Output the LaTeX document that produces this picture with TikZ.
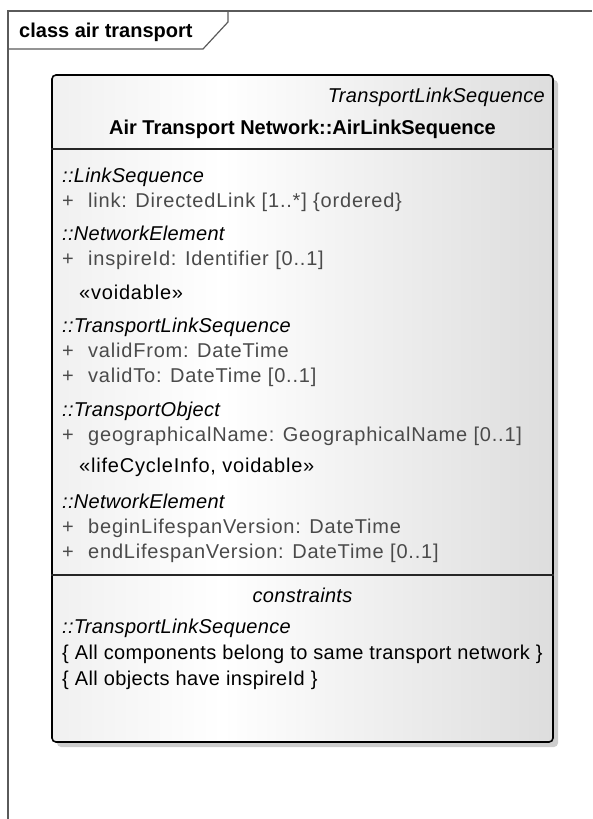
\documentclass[tikz,border=0pt]{standalone}
\usepackage{fontspec}
\setmainfont{Liberation Sans}
\newfontfamily\attrfont[LetterSpace=4]{Liberation Sans}
\newfontfamily\constrfont[LetterSpace=2]{Liberation Sans}
\newfontfamily\nsfont[LetterSpace=1.5]{Liberation Sans}
\definecolor{framegrey}{HTML}{5A5A5A}
\definecolor{attrgrey}{HTML}{4A4A4A}
\definecolor{shadowgrey}{HTML}{CDCDCD}
\definecolor{fillleft}{HTML}{F0F0F0}
\definecolor{fillright}{HTML}{DDDDDD}
\pgfdeclarehorizontalshading{classfill}{100bp}{%
  color(0bp)=(fillleft); color(25bp)=(fillleft); color(42bp)=(white);
  color(75bp)=(fillright); color(100bp)=(fillright)}
\tikzset{
  framepen/.style={draw=framegrey, line width=1.2pt},
  boxpen/.style={draw=black, line width=1.6pt},
  seppen/.style={draw=black!85, line width=1.4pt},
  nsline/.style={anchor=base west, inner sep=0pt, font=\nsfont\itshape\fontsize{20}{24}\selectfont},
  attrline/.style={anchor=base west, inner sep=0pt, text=attrgrey, font=\attrfont\fontsize{20}{24}\selectfont},
  stereoline/.style={anchor=base west, inner sep=0pt, font=\attrfont\fontsize{20}{24}\selectfont},
  plainline/.style={anchor=base west, inner sep=0pt, font=\constrfont\fontsize{20}{24}\selectfont},
}
\begin{document}
\begin{tikzpicture}[x=1pt,y=-1pt]
\useasboundingbox (0,0) rectangle (592,819);
% diagram frame and its name tab
\draw[framepen] (8,819) -- (8,11) -- (592,11);
\draw[framepen] (8,49) -- (203,49) -- (228,22) -- (228,11);
\node[anchor=base west, inner sep=0pt, font=\bfseries\fontsize{20}{24}\selectfont] (title) at (19,37) {class air transport};
% class box with shadow
\fill[shadowgrey, rounded corners=4pt] (57,80) rectangle (558,747);
\node[boxpen, rounded corners=4pt, shading=classfill, minimum width=501pt, minimum height=667pt, inner sep=0pt] (cls) at (302.5,408.5) {};
\draw[seppen] (cls.west |- 0,149) -- (cls.east |- 0,149);
\draw[seppen] (cls.west |- 0,575) -- (cls.east |- 0,575);
% header
\node[anchor=base east, inner sep=0pt, font=\nsfont\itshape\fontsize{20}{24}\selectfont] (stereo) at (545,102) {TransportLinkSequence};
\node[anchor=base, inner sep=0pt, font=\bfseries\fontsize{20}{24}\selectfont] (name) at (302.5,134) {Air Transport Network::AirLinkSequence};
% attributes
\node[nsline] (nsA) at (62,182) {::LinkSequence};
\node[attrline] (pA) at (62,207) {+};
\node[attrline] (aA) at (88,207) {link: DirectedLink [1..*] {\{}ordered{\}}};
\node[nsline] (nsB) at (62,240.5) {::NetworkElement};
\node[attrline] (pB) at (62,265.5) {+};
\node[attrline] (aB) at (88,265.5) {inspireId: Identifier [0..1]};
\node[stereoline] (stB) at (79,299) {«voidable»};
\node[nsline] (nsC) at (62,332.5) {::TransportLinkSequence};
\node[attrline] (pC1) at (62,357.5) {+};
\node[attrline] (aC1) at (88,357.5) {validFrom: DateTime};
\node[attrline] (pC2) at (62,382.5) {+};
\node[attrline] (aC2) at (88,382.5) {validTo: DateTime [0..1]};
\node[nsline] (nsD) at (62,416) {::TransportObject};
\node[attrline] (pD) at (62,441) {+};
\node[attrline] (aD) at (88,441) {geographicalName: GeographicalName [0..1]};
\node[stereoline] (stD) at (79,472) {«lifeCycleInfo, voidable»};
\node[nsline] (nsE) at (62,508) {::NetworkElement};
\node[attrline] (pE1) at (62,533) {+};
\node[attrline] (aE1) at (88,533) {beginLifespanVersion: DateTime};
\node[attrline] (pE2) at (62,558) {+};
\node[attrline] (aE2) at (88,558) {endLifespanVersion: DateTime [0..1]};
% constraints
\node[anchor=base, inner sep=0pt, font=\nsfont\itshape\fontsize{20}{24}\selectfont] (cons) at (302.5,602) {constraints};
\node[nsline] (nsF) at (62,633) {::TransportLinkSequence};
\node[plainline] (cF1) at (62,659) {{\{} All components belong to same transport network {\}}};
\node[plainline] (cF2) at (62,685) {{\{} All objects have inspireId {\}}};
\end{tikzpicture}
\end{document}
